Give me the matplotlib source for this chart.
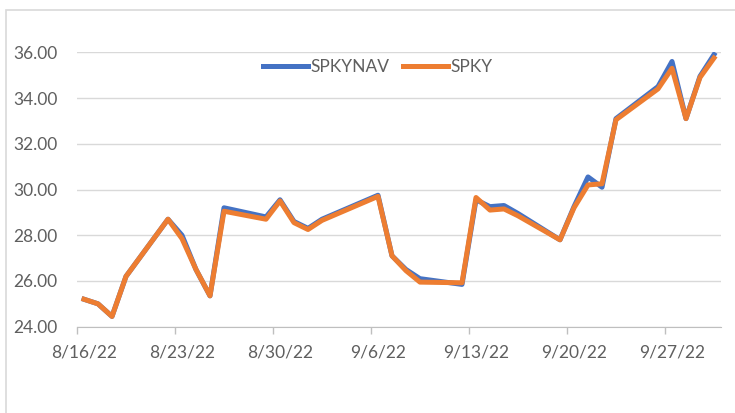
import matplotlib
matplotlib.use("Agg")
import matplotlib.pyplot as plt
from matplotlib.patches import Rectangle
import pandas as pd

# trading days and closing values
dates = ["2022-08-16", "2022-08-17", "2022-08-18", "2022-08-19", "2022-08-22",
         "2022-08-23", "2022-08-24", "2022-08-25", "2022-08-26", "2022-08-29",
         "2022-08-30", "2022-08-31", "2022-09-01", "2022-09-02", "2022-09-06",
         "2022-09-07", "2022-09-08", "2022-09-09", "2022-09-12", "2022-09-13",
         "2022-09-14", "2022-09-15", "2022-09-16", "2022-09-19", "2022-09-20",
         "2022-09-21", "2022-09-22", "2022-09-23", "2022-09-26", "2022-09-27",
         "2022-09-28", "2022-09-29", "2022-09-30"]
spkynav = [25.20, 25.00, 24.45, 26.20, 28.70, 28.00, 26.50, 25.35, 29.20, 28.80,
           29.55, 28.60, 28.30, 28.70, 29.75, 27.10, 26.50, 26.10, 25.85, 29.55,
           29.25, 29.30, 28.95, 27.80, 29.25, 30.55, 30.10, 33.10, 34.50, 35.60,
           33.10, 34.95, 35.90]
spky = [25.20, 25.00, 24.45, 26.20, 28.70, 27.85, 26.50, 25.35, 29.05, 28.70,
        29.50, 28.55, 28.25, 28.65, 29.70, 27.10, 26.45, 25.95, 25.92, 29.65,
        29.10, 29.15, 28.85, 27.80, 29.20, 30.20, 30.25, 33.05, 34.40, 35.30,
        33.10, 34.90, 35.75]
tick_dates = ["2022-08-16", "2022-08-23", "2022-08-30", "2022-09-06",
              "2022-09-13", "2022-09-20", "2022-09-27"]
y_ticks = [24, 26, 28, 30, 32, 34, 36]

plt.rcParams['font.family'] = ['Lato', 'DejaVu Sans']
txt = '#5F5F5F'
grid = '#D9D9D9'

fig = plt.figure(figsize=(7.35, 4.13), dpi=100)
# chart frame (cut off at right and bottom like the screenshot)
fig.patches.append(Rectangle((6 / 735, -0.2), 1.2, 1.2 - 10 / 413,
                             transform=fig.transFigure, fill=False,
                             edgecolor=grid, lw=1.2))

ax = fig.add_axes([77 / 735, 1 - 326.7 / 413, 644 / 735, (326.7 - 52.3) / 413])

# Excel date axis: points sit between tick marks
half = pd.Timedelta(hours=12)
x = pd.to_datetime(dates) + half
ax.plot(x, spkynav, color='#4472C4', lw=3.6, label='SPKYNAV', solid_joinstyle='round')
ax.plot(x, spky, color='#ED7D31', lw=3.6, label='SPKY', solid_joinstyle='round')

ax.set_xlim(pd.Timestamp("2022-08-16"), pd.Timestamp("2022-10-01"))
ax.set_ylim(24, 36)

ticks = pd.to_datetime(tick_dates)
ax.set_xticks(ticks)
ax.set_xticklabels([])
ax.set_xticks(ticks + half, minor=True)
ax.set_xticklabels([f"{d.month}/{d.day}/{d.year % 100}" for d in ticks], minor=True)
ax.tick_params(axis='x', which='major', length=5, color='#BFBFBF', width=1)
ax.tick_params(axis='x', which='minor', length=0, pad=13, labelsize=12.5, labelcolor=txt)

ax.set_yticks(y_ticks)
ax.set_yticklabels([f"{v:.2f}" for v in y_ticks])
ax.tick_params(axis='y', length=0, pad=14, labelsize=12.5, labelcolor=txt)
ax.yaxis.grid(True, color=grid, lw=1)
ax.set_axisbelow(True)

for s in ['top', 'right', 'left']:
    ax.spines[s].set_visible(False)
ax.spines['bottom'].set_color('#BFBFBF')

leg = fig.legend(loc='center', bbox_to_anchor=(0.514, 1 - 67 / 413), ncol=2,
                 frameon=False, fontsize=12.5, handlelength=2.6, handletextpad=0.15,
                 columnspacing=0.75)
for t in leg.get_texts():
    t.set_color(txt)

fig.savefig("out.png", dpi=100)
